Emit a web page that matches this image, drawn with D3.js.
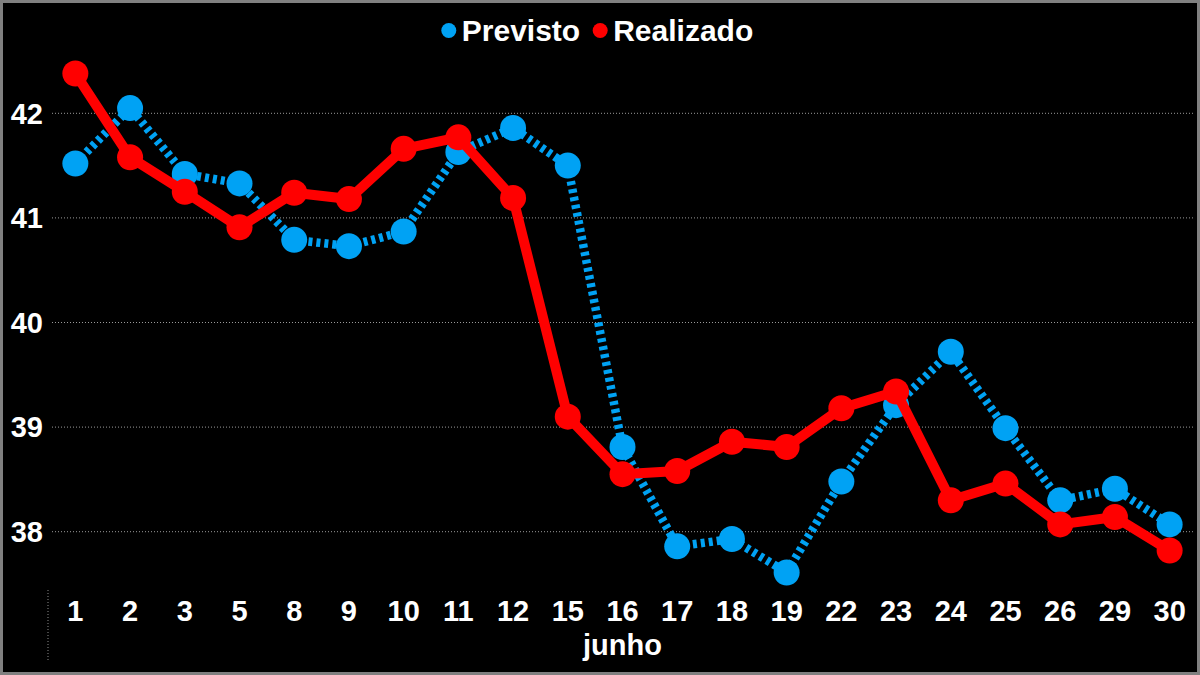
<!DOCTYPE html>
<html>
<head>
<meta charset="utf-8">
<script src="https://cdn.jsdelivr.net/npm/d3@7"></script>
<style>
  html, body { margin: 0; padding: 0; background: #000; }
  svg { display: block; }
</style>
</head>
<body>
<script>
"use strict";
// junho, dias úteis
const dias = ['1','2','3','5','8','9','10','11','12','15','16','17','18','19','22','23','24','25','26','29','30']
const previsto = [41.52, 42.05, 41.42, 41.33, 40.79, 40.73, 40.87, 41.63, 41.86, 41.50,
                  38.81, 37.86, 37.93, 37.61, 38.48, 39.21, 39.72, 38.99, 38.30, 38.41, 38.07]
const realizado = [42.38, 41.58, 41.25, 40.91, 41.24, 41.18, 41.66, 41.77, 41.19, 39.10,
                   38.55, 38.58, 38.86, 38.81, 39.18, 39.34, 38.30, 38.46, 38.07, 38.14, 37.82]
const yTicks = [38, 39, 40, 41, 42]
const mes = 'junho'

;(function(){
  let m = {
    width: 1200,
    height: 675,
    left: 48,
    right: 1197
  }
  const azul = '#00a2f4'
  const vermelho = '#ff0000'
  const fonte = '"Liberation Sans", Arial, sans-serif'

  const svg = d3.select("body").append('svg')
      .attr('width', m.width)
      .attr('height', m.height)
      .style('font-family', fonte)

  // fundo + borda cinza
  svg.append('rect')
      .attr('x', 1.5).attr('y', 1.5)
      .attr('width', m.width - 3).attr('height', m.height - 3)
      .attr('fill', '#000')
      .attr('stroke', '#808080')
      .attr('stroke-width', 3)

  let xScale = d3.scaleBand()
      .domain(dias)
      .range([m.left, m.right])
  let yScale = d3.scaleLinear()
      .domain([38, 42])
      .range([531.7, 113.3])

  // grade pontilhada
  svg.append('g')
    .selectAll('line')
    .data(yTicks)
    .enter()
    .append('line')
      .attr('x1', 52)
      .attr('x2', 1193)
      .attr('y1', d => yScale(d))
      .attr('y2', d => yScale(d))
      .attr('stroke', '#9a9a9a')
      .attr('stroke-width', 1)
      .attr('stroke-dasharray', '1,2')

  // eixo y
  let yAxis = svg.append('g')
      .attr('transform', 'translate(52,0)')
      .call(d3.axisLeft(yScale).tickValues(yTicks).tickSize(0).tickPadding(9).tickFormat(d3.format('d')))
  yAxis.select('.domain').remove()
  yAxis.selectAll('text')
      .attr('fill', '#fff')
      .attr('font-size', '29px')
      .attr('font-weight', 'bold')
      .attr('font-family', fonte)
      .attr('dy', '0.34em')

  // eixo x
  let xAxis = svg.append('g')
      .attr('transform', 'translate(0,590)')
      .call(d3.axisBottom(xScale).tickSize(0).tickPadding(10))
  xAxis.select('.domain').remove()
  xAxis.selectAll('text')
      .attr('fill', '#fff')
      .attr('font-size', '29px')
      .attr('font-weight', 'bold')
      .attr('font-family', fonte)
      .attr('dy', '0.71em')

  // separador do grupo "junho"
  svg.append('line')
      .attr('x1', m.left).attr('x2', m.left)
      .attr('y1', 590).attr('y2', 662)
      .attr('stroke', '#8c8c8c')
      .attr('stroke-dasharray', '1,2')

  svg.append('text')
      .attr('x', (m.left + m.right) / 2)
      .attr('y', 655)
      .attr('text-anchor', 'middle')
      .attr('fill', '#fff')
      .attr('font-size', '29px')
      .attr('font-weight', 'bold')
      .text(mes)

  const cx = (d, i) => xScale(dias[i]) + xScale.bandwidth() / 2
  let line = d3.line()
      .x((d, i) => cx(d, i))
      .y(d => yScale(d))

  // Previsto (tracejado)
  svg.append('path')
      .datum(previsto)
      .attr('d', line)
      .attr('fill', 'none')
      .attr('stroke', azul)
      .attr('stroke-width', 8.5)
      .attr('stroke-dasharray', '4,4')
  svg.append('g')
    .selectAll('circle')
    .data(previsto)
    .enter()
    .append('circle')
      .attr('cx', cx)
      .attr('cy', d => yScale(d))
      .attr('r', 13)
      .attr('fill', azul)

  // Realizado
  svg.append('path')
      .datum(realizado)
      .attr('d', line)
      .attr('fill', 'none')
      .attr('stroke', vermelho)
      .attr('stroke-width', 10)
      .attr('stroke-linejoin', 'round')
  svg.append('g')
    .selectAll('circle')
    .data(realizado)
    .enter()
    .append('circle')
      .attr('cx', cx)
      .attr('cy', d => yScale(d))
      .attr('r', 13)
      .attr('fill', vermelho)

  // legenda
  let legenda = svg.append('g')
  let series = [{nome: 'Previsto', cor: azul}, {nome: 'Realizado', cor: vermelho}]
  let x = 0
  series.forEach(function(s){
    legenda.append('circle')
        .attr('cx', x + 7).attr('cy', 30.5).attr('r', 7.5)
        .attr('fill', s.cor)
    let t = legenda.append('text')
        .attr('x', x + 20)
        .attr('y', 41)
        .attr('fill', '#fff')
        .attr('font-size', '30px')
        .attr('font-weight', 'bold')
        .text(s.nome)
    x += 20 + t.node().getComputedTextLength() + 13
  })
  let largura = x - 13
  legenda.attr('transform', 'translate(' + (597.5 - largura / 2) + ',0)')
})();
</script>
</body>
</html>
